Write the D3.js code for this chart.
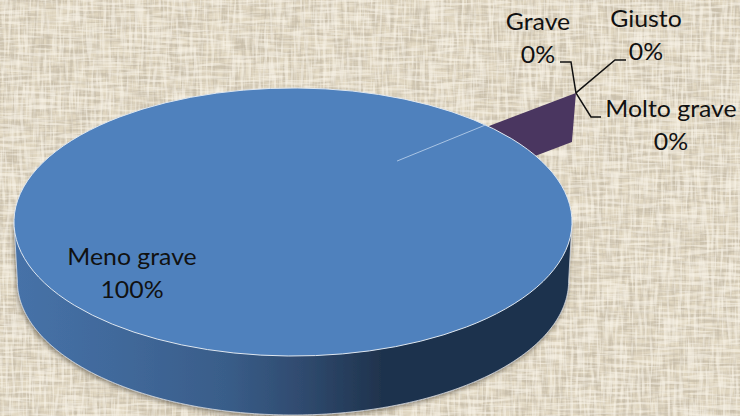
<!DOCTYPE html>
<html>
<head>
<meta charset="utf-8">
<script src="https://cdnjs.cloudflare.com/ajax/libs/d3/7.8.5/d3.min.js"></script>
<style>
html, body { margin: 0; padding: 0; background: #e0d6c0; overflow: hidden; }
svg { display: block; }
text { font-family: Lato, "Open Sans", sans-serif; font-size: 23px; fill: #111; text-anchor: middle; }
</style>
</head>
<body>
<svg id="chart"></svg>
<script>
let categories = ["Giusto", "Molto grave", "Grave", "Meno grave"];
let values = [0, 0, 0, 100];

let w = 740, h = 416;
let svg = d3.select("#chart").attr("width", w).attr("height", h);

// label placement, by category
let labelPos = {
    "Giusto": { x: 646, y: 27, lineTo: [[626, 60], [615, 60]] },
    "Molto grave": { x: 671, y: 117, lineTo: [[601, 117], [591, 117]] },
    "Grave": { x: 538, y: 30, lineTo: [[560, 62], [571, 62]] },
    "Meno grave": { x: 132, y: 265 }
};

let defs = svg.append("defs");

// linen background
function threads(id, freq, seed, color) {
    let f = defs.append("filter").attr("id", id)
        .attr("x", 0).attr("y", 0).attr("width", "100%").attr("height", "100%");
    f.append("feTurbulence").attr("type", "fractalNoise")
        .attr("baseFrequency", freq).attr("numOctaves", 2).attr("seed", seed);
    f.append("feColorMatrix").attr("type", "matrix")
        .attr("values", `0 0 0 0 ${color[0]}  0 0 0 0 ${color[1]}  0 0 0 0 ${color[2]}  4.2 0 0 0 -1.85`);
    f.append("feGaussianBlur").attr("stdDeviation", 0.45);
}
threads("warpDark", "0.3 0.03", 3, [0.55, 0.49, 0.39]);
threads("weftDark", "0.03 0.3", 8, [0.55, 0.49, 0.39]);
threads("warpLight", "0.34 0.035", 14, [0.96, 0.92, 0.83]);
threads("weftLight", "0.035 0.34", 21, [0.96, 0.92, 0.83]);

svg.append("rect").attr("width", w).attr("height", h).attr("fill", "#e0d6c0");
["warpDark", "weftDark", "warpLight", "weftLight"].forEach(id => {
    svg.append("rect").attr("width", w).attr("height", h)
        .attr("filter", `url(#${id})`)
        .attr("opacity", id.endsWith("Dark") ? 0.6 : 0.55);
});

let shadow = defs.append("filter").attr("id", "shadow")
    .attr("x", "-5%").attr("y", "-5%").attr("width", "110%").attr("height", "115%");
shadow.append("feDropShadow").attr("dx", -1).attr("dy", 2).attr("stdDeviation", 2.5)
    .attr("flood-color", "#4a4030").attr("flood-opacity", 0.6);

let sideGrad = defs.append("linearGradient").attr("id", "side")
    .attr("gradientUnits", "userSpaceOnUse")
    .attr("x1", 14).attr("x2", 572).attr("y1", 0).attr("y2", 0);
[[0, "#4672a8"], [0.18, "#41699b"], [0.38, "#395d89"], [0.52, "#2f4a6e"], [0.66, "#1f334d"], [1, "#1f334d"]]
    .forEach(s => sideGrad.append("stop").attr("offset", s[0]).attr("stop-color", s[1]));

// pie in unit coordinates, squashed to the ellipse by the scales
let x = d3.scaleLinear().domain([-1, 1]).range([14, 572]);
let y = d3.scaleLinear().domain([-1, 1]).range([88, 356]);
let depth = 59, baseInset = 0.012, wallDrop = 49, wallInset = 4;

let startAngle = 51.6 * Math.PI / 180;
let pie = d3.pie().sort(null).startAngle(startAngle).endAngle(startAngle + 2 * Math.PI);
let slices = pie(values);
let line = d3.line();

// zero slices are pulled out of the pie, all on one ray
let pullX = 0.373, pullY = -0.455, sliceR = 0.818;
let zero = slices.filter(d => d.value === 0)[0];
let inner = [x(pullX), y(pullY)];
let apex = [
    x(pullX + sliceR * Math.sin(zero.startAngle)),
    y(pullY - sliceR * Math.cos(zero.startAngle))
];

svg.append("path")
    .attr("d", line([
        inner, apex,
        [apex[0] - wallInset, apex[1] + wallDrop],
        [inner[0] - wallInset, inner[1] + wallDrop]
    ]))
    .attr("fill", "#4a3660");

// side wall
let angles = d3.range(90, 270.5, 1).map(a => a * Math.PI / 180);
let wall = [[x(1), y(0)]]
    .concat(angles.map(a => [
        x((1 - baseInset) * Math.sin(a)),
        y(-Math.cos(a)) + depth
    ]))
    .concat([[x(-1), y(0)]]);
svg.append("path")
    .attr("d", line(wall) + "Z")
    .attr("fill", "url(#side)")
    .attr("stroke", "#d5dbe2").attr("stroke-width", 0.8)
    .attr("filter", "url(#shadow)");

// top face
let arc = d3.arc().innerRadius(0).outerRadius(1);
let main = slices.find(d => d.value > 0);
svg.append("path")
    .attr("d", arc(main))
    .attr("transform", `translate(${x(0)},${y(0)}) scale(${x(1) - x(0)},${y(1) - y(0)})`)
    .attr("fill", "#4f81bd")
    .attr("stroke", "#dfe7f0").attr("stroke-width", 1)
    .attr("vector-effect", "non-scaling-stroke");

// the ray that shows through the top face
svg.append("path")
    .attr("d", line([inner, [x(0.69), y(-0.724)]]))
    .attr("stroke", "#a9c4e4").attr("stroke-width", 1).attr("fill", "none");

// leader lines
slices.forEach((d, i) => {
    let pos = labelPos[categories[i]];
    if (!pos.lineTo) return;
    svg.append("path")
        .attr("d", line(pos.lineTo.concat([apex])))
        .attr("stroke", "#111").attr("stroke-width", 1.5).attr("fill", "none");
});

// labels, a little wide like the stretched original
let total = d3.sum(values);
let fmt = d3.format(".0%");
slices.forEach((d, i) => {
    let pos = labelPos[categories[i]];
    let t = svg.append("text").attr("transform", `translate(${pos.x},${pos.y}) scale(1.08,1)`);
    t.append("tspan").attr("x", 0).attr("y", 0).text(categories[i]);
    t.append("tspan").attr("x", 0).attr("y", 33).text(fmt(d.value / total));
});
</script>
</body>
</html>
